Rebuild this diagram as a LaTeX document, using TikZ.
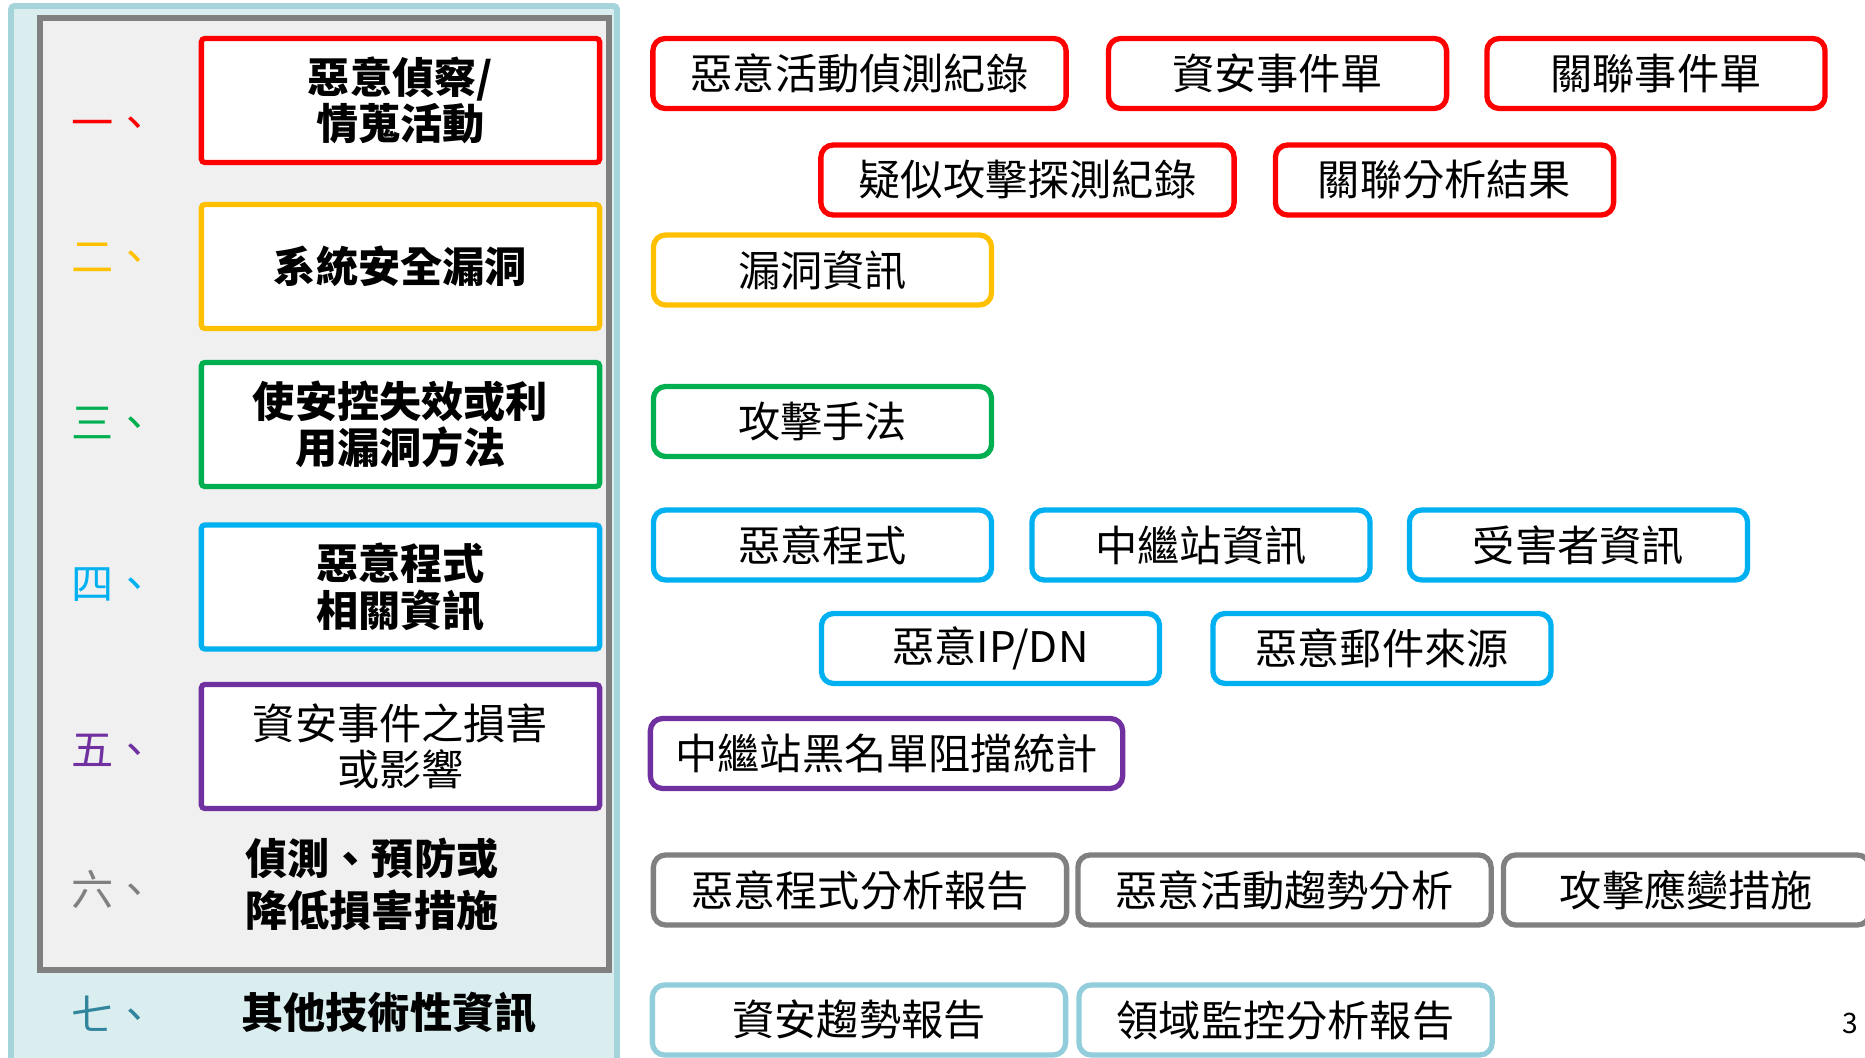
\documentclass[tikz,border=0pt]{standalone}
\usepackage{fontspec}
\setmainfont{Noto Sans CJK TC}
\usepackage{tikz}
\usetikzlibrary{positioning}
\usetikzlibrary{calc}

\definecolor{secred}{HTML}{FF0000}
\definecolor{secyellow}{HTML}{FFC000}
\definecolor{secgreen}{HTML}{00B050}
\definecolor{secblue}{HTML}{00B0F0}
\definecolor{secpurple}{HTML}{7030A0}
\definecolor{secgray}{HTML}{808080}
\definecolor{secteal}{HTML}{92CDDC}
\definecolor{secdarkteal}{HTML}{31859C}
\definecolor{panelfill}{HTML}{DAEEF0}
\definecolor{panelline}{HTML}{A5D5DA}
\definecolor{innerfill}{HTML}{F0F0F0}

\begin{document}
\begin{tikzpicture}[x=0.01cm, y=-0.01cm,
  catbox/.style={draw, line width=1.5pt, fill=white, rounded corners=1pt, minimum width=3.98cm, minimum height=1.24cm, inner sep=0pt, align=center, font=\bfseries\fontsize{12}{13.2}\selectfont},
  numtag/.style={anchor=west, inner sep=0pt, text height=0.88em, text depth=0.12em, font=\fontsize{12}{14}\selectfont},
  infobox/.style={draw, line width=1.5pt, fill=white, rounded corners=3.5pt, minimum width=3.38cm, minimum height=0.70cm, inner sep=0pt, font=\fontsize{12}{14}\selectfont},
  infowide/.style={infobox, minimum width=4.13cm},
  node distance=0.36cm]
\newcommand{\CatX}{400.5}
\newcommand{\NumX}{71}
\newcommand{\InfoX}{822.5}

\path[use as bounding box] (0,0) rectangle (1865,1058);
\clip (0,0) rectangle (1865,1058);

\draw[panelline, fill=panelfill, line width=1.7pt, rounded corners=1pt] (11,6) rectangle (617,1080);% outer panel
\draw[secgray, fill=innerfill, line width=1.7pt] (40,18) rectangle (609,970);% inner panel

% left column
\node[catbox, draw=secred] (recon) at (\CatX,100.5) {惡意偵察/\\情蒐活動};
\node[catbox, draw=secyellow] (vuln) at (\CatX,266.5) {系統安全漏洞};
\node[catbox, draw=secgreen] (exploit) at (\CatX,424.5) {使安控失效或利\\用漏洞方法};
\node[catbox, draw=secblue] (malware) at (\CatX,587) {惡意程式\\相關資訊};
\node[catbox, draw=secpurple, font=\fontsize{12}{13.2}\selectfont] (impact) at (\CatX,746.5) {資安事件之損害\\或影響};
\node[align=center, inner sep=0pt, font=\bfseries\fontsize{12}{14.8}\selectfont] (defense) at (372,884) {偵測、預防或\\降低損害措施};
\node[inner sep=0pt, font=\bfseries\fontsize{12}{14}\selectfont] (other) at (389,1013) {其他技術性資訊};

\node[numtag, secred] (n1) at (\NumX,125) {一、};
\node[numtag, secyellow] (n2) at (\NumX,259) {二、};
\node[numtag, secgreen] (n3) at (\NumX,425) {三、};
\node[numtag, secblue] (n4) at (\NumX,586) {四、};
\node[numtag, secpurple] (n5) at (\NumX,752) {五、};
\node[numtag, secgray] (n6) at (\NumX,892) {六、};
\node[numtag, secdarkteal] (n7) at (\NumX,1017) {七、};

% right side
\node[infowide, draw=secred] (actlog) at (859.5,73.5) {惡意活動偵測紀錄};
\node[infobox, draw=secred, right=0.37cm of actlog] (ticket) {資安事件單};
\node[infobox, draw=secred, right=0.35cm of ticket] (corrticket) {關聯事件單};
\node[infowide, draw=secred] (probelog) at (1027.5,180) {疑似攻擊探測紀錄};
\node[infobox, draw=secred, right=of probelog] (corrresult) {關聯分析結果};

\node[infobox, draw=secyellow] (vulninfo) at (\InfoX,270) {漏洞資訊};
\node[infobox, draw=secgreen] (method) at (\InfoX,421.5) {攻擊手法};

\node[infobox, draw=secblue] (program) at (\InfoX,545) {惡意程式};
\node[infobox, draw=secblue, right=0.35cm of program] (relay) {中繼站資訊};
\node[infobox, draw=secblue, right=0.34cm of relay] (victim) {受害者資訊};
\node[infobox, draw=secblue] (ipdn) at (990.5,648.5) {惡意IP/DN};
\node[infobox, draw=secblue, right=0.48cm of ipdn] (mailsrc) {惡意郵件來源};

\node[infobox, draw=secpurple, minimum width=4.72cm] (blockstat) at (886.5,753.5) {中繼站黑名單阻擋統計};

\node[infowide, draw=secgray] (report) at (860,890) {惡意程式分析報告};
\node[infowide, draw=secgray, right=0.06cm of report] (trend) {惡意活動趨勢分析};
\node[infobox, draw=secgray, minimum width=3.66cm, right=0.07cm of trend] (response) {攻擊應變措施};

\node[infowide, draw=secteal] (secreport) at (859,1020) {資安趨勢報告};
\node[infowide, draw=secteal, right=0.08cm of secreport] (domain) {領域監控分析報告};

\node[inner sep=0pt, font=\fontsize{8}{9}\selectfont] (pagenum) at (1850,1023) {3};
\end{tikzpicture}
\end{document}
